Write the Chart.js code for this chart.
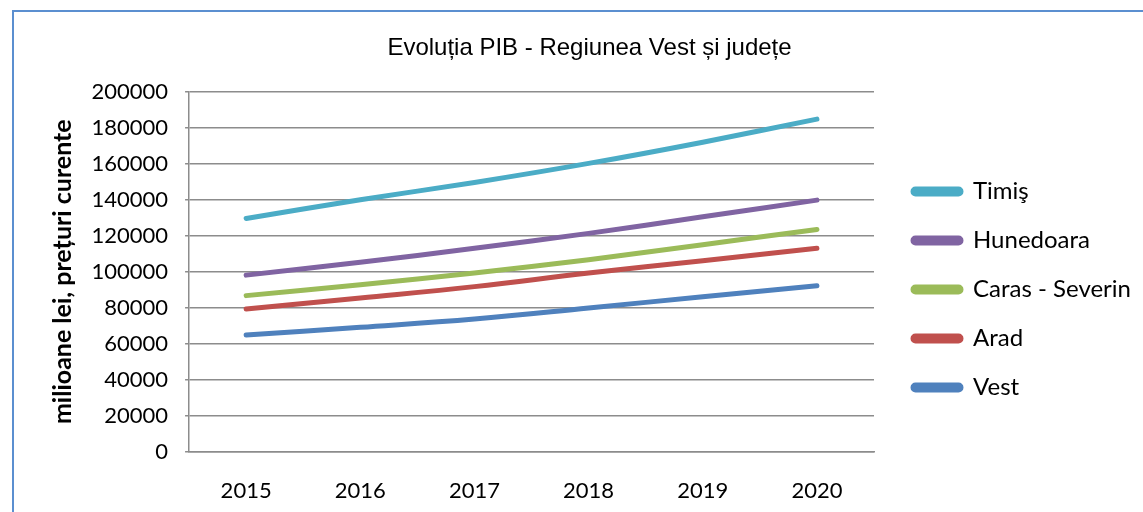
<!DOCTYPE html>
<html>
<head>
<meta charset="utf-8">
<script src="https://cdn.jsdelivr.net/npm/chart.js@4/dist/chart.umd.min.js"></script>
<style>
  body { margin: 0; background: #fff; overflow: hidden; }
  #frame { position: absolute; left: 12px; top: 10px; width: 1142px; height: 530px; border-left: 2px solid #5b8fd0; border-top: 2px solid #5b8fd0; box-sizing: border-box; }
  #wrap { position: absolute; left: 12px; top: 10px; width: 1142px; height: 520px; }
</style>
</head>
<body>
<div id="frame"></div>
<div id="wrap"><canvas id="mycanvas"></canvas></div>
<script>
// years on the x axis
var years = ["2015", "2016", "2017", "2018", "2019", "2020"];

// PIB, milioane lei
var timis      = [129600, 140000, 149600, 160200, 172000, 184800];
var hunedoara  = [98100, 105200, 113000, 121300, 130500, 139800];
var carasSev   = [86700, 92800, 99300, 106700, 115000, 123500];
var arad       = [79300, 85400, 91700, 99300, 106100, 113000];
var vest       = [64800, 69100, 73700, 79800, 86100, 92200];

var names  = ["Timiş", "Hunedoara", "Caras - Severin", "Arad", "Vest"];
var colors = ["#4bacc6", "#8064a2", "#9bbb59", "#c0504d", "#4f81bd"];
var values = [timis, hunedoara, carasSev, arad, vest];

var sets = [];
for (var i = 0; i < names.length; i++) {
  sets.push({
    label: names[i],
    data: values[i],
    borderColor: colors[i],
    backgroundColor: colors[i],
    borderWidth: 5,
    borderCapStyle: "round",
    pointRadius: 0,
    pointHoverRadius: 0,
    tension: 0.4,
    fill: false
  });
}

// push the legend a bit to the right of the plot, like in excel
var legendGap = {
  id: "legendGap",
  afterLayout: function(chart) {
    chart.legend.left += 14;
    chart.legend.right += 14;
  }
};

var ctx = document.getElementById("mycanvas");
var linegraph = new Chart(ctx, {
  type: "line",
  data: { labels: years, datasets: sets },
  plugins: [legendGap],
  options: {
    responsive: true,
    maintainAspectRatio: false,
    animation: false,
    layout: { padding: { left: 40, right: 27, top: 0, bottom: 0 } },
    plugins: {
      title: {
        display: true,
        text: "Evoluția PIB - Regiunea Vest și județe",
        color: "#000",
        font: { family: "Liberation Sans", size: 24, weight: "normal" },
        padding: { top: 24, bottom: 29 }
      },
      legend: {
        position: "right",
        title: { display: true, text: " ", font: { size: 10 }, padding: { top: 13.5, bottom: 13.5 } },
        labels: {
          color: "#000",
          font: { family: "Lato", size: 24 },
          boxWidth: 48,
          boxHeight: 5,
          useBorderRadius: true,
          borderRadius: 2.5,
          padding: 25
        }
      },
      tooltip: { enabled: false }
    },
    scales: {
      x: {
        offset: true,
        grid: { display: false, drawTicks: false },
        border: { display: true, color: "#8c8c8c", width: 1.5 },
        ticks: { color: "#000", font: { family: "Lato", size: 22 }, padding: 26, maxRotation: 0 }
      },
      y: {
        min: 0,
        max: 200000,
        grid: { color: "#8c8c8c", lineWidth: 1.5, tickLength: 4 },
        border: { display: true, color: "#8c8c8c", width: 1.5 },
        ticks: {
          color: "#000",
          font: { family: "Lato", size: 22 },
          stepSize: 20000,
          padding: 17,
          callback: function(v) { return String(v); }
        },
        title: {
          display: true,
          text: "milioane lei, prețuri curente",
          color: "#000",
          font: { family: "Lato", size: 25, weight: "bold", lineHeight: 0.9 },
          padding: { top: 0, bottom: 0 }
        }
      }
    }
  }
});
</script>
</body>
</html>
